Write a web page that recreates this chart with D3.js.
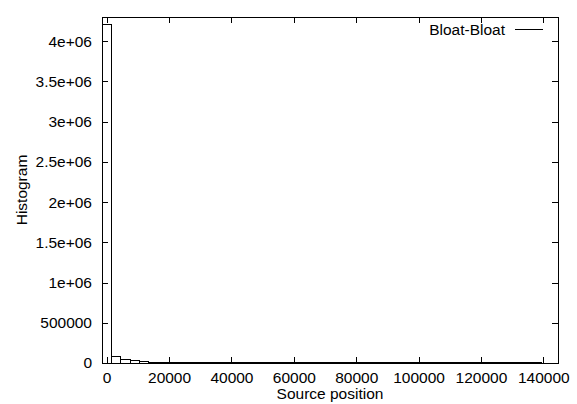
<!DOCTYPE html>
<html>
<head>
<meta charset="utf-8">
<script src="https://cdn.jsdelivr.net/npm/d3@7"></script>
<style>
  body { margin: 0; background: #fff; }
  text { font-family: "Liberation Sans", Arial, sans-serif; font-size: 15.5px; fill: #000; }
</style>
</head>
<body>
<script>
const width = 577,
      height = 404;

// histogram bins (centre of each box, width 3000)
const binCenters = [0, 3000, 6000, 9000, 12000, 15000, 18000, 21000, 24000, 27000,
  30000, 33000, 36000, 39000, 42000, 45000, 48000, 51000, 54000, 57000,
  60000, 63000, 66000, 69000, 72000, 75000, 78000, 81000, 84000, 87000,
  90000, 93000, 96000, 99000, 102000, 105000, 108000, 111000, 114000, 117000,
  120000, 123000, 126000, 129000, 132000, 135000, 138000];
const counts = [4210000, 85000, 45000, 26000, 16000, 11000, 8000, 6000, 5000, 4000,
  3500, 3000, 2600, 2300, 2000, 1800, 1600, 1400, 1300, 1200,
  1100, 1000, 900, 850, 800, 750, 700, 650, 600, 550,
  500, 480, 450, 420, 400, 380, 350, 320, 300, 280,
  260, 240, 220, 200, 180, 160, 140];
const binWidth = 3000;

const xTicks = [0, 20000, 40000, 60000, 80000, 100000, 120000, 140000];
const yTicks = [0, 500000, 1000000, 1500000, 2000000, 2500000, 3000000, 3500000, 4000000];
const yTickLabels = ["0", "500000", "1e+06", "1.5e+06", "2e+06", "2.5e+06", "3e+06", "3.5e+06", "4e+06"];

const seriesName = "Bloat-Bloat";

const margin = {left: 102, right: 19, top: 17, bottom: 41};

const x = d3.scaleLinear()
    .domain([-1500, 144700])
    .range([margin.left, width - margin.right]);

const y = d3.scaleLinear()
    .domain([0, 4300000])
    .range([height - margin.bottom, margin.top]);

const svg = d3.select("body").append("svg")
    .attr("width", width)
    .attr("height", height);

const tickLen = 6;

// boxes
svg.append("g").selectAll("rect")
  .data(binCenters)
  .enter().append("rect")
  .attr("x", d => x(d - binWidth / 2))
  .attr("width", x(binWidth) - x(0))
  .attr("y", (d, i) => y(counts[i]))
  .attr("height", (d, i) => y(0) - y(counts[i]))
  .attr("fill", "none")
  .attr("stroke", "#000")
  .attr("stroke-width", 1)
  .attr("shape-rendering", "crispEdges");

// x ticks (inward, mirrored on top)
const xAxisBottom = d3.axisBottom(x).tickValues(xTicks).tickSizeInner(-tickLen).tickSizeOuter(0)
    .tickPadding(9).tickFormat(d3.format("d"));
const gx = svg.append("g")
  .attr("transform", `translate(0,${y(0)})`)
  .call(xAxisBottom);
gx.select(".domain").remove();
gx.selectAll("text").attr("font-size", null).attr("font-family", null);

const gxTop = svg.append("g")
  .attr("transform", `translate(0,${margin.top})`)
  .call(d3.axisTop(x).tickValues(xTicks).tickSizeInner(-tickLen).tickSizeOuter(0).tickFormat(""));
gxTop.select(".domain").remove();

// y ticks (inward, mirrored on right)
const gy = svg.append("g")
  .attr("transform", `translate(${margin.left},0)`)
  .call(d3.axisLeft(y).tickValues(yTicks).tickSizeInner(-tickLen).tickSizeOuter(0)
    .tickPadding(10).tickFormat((d, i) => yTickLabels[i]));
gy.select(".domain").remove();
gy.selectAll("text").attr("font-size", null).attr("font-family", null);

const gyRight = svg.append("g")
  .attr("transform", `translate(${width - margin.right},0)`)
  .call(d3.axisRight(y).tickValues(yTicks).tickSizeInner(-tickLen).tickSizeOuter(0).tickFormat(""));
gyRight.select(".domain").remove();

svg.selectAll(".tick line").attr("stroke", "#000").attr("shape-rendering", "crispEdges");

// border
svg.append("rect")
  .attr("x", margin.left)
  .attr("y", margin.top)
  .attr("width", width - margin.right - margin.left)
  .attr("height", y(0) - margin.top)
  .attr("fill", "none")
  .attr("stroke", "#000")
  .attr("shape-rendering", "crispEdges");

// axis titles
svg.append("text")
  .attr("x", (margin.left + width - margin.right) / 2)
  .attr("y", 399)
  .attr("text-anchor", "middle")
  .text("Source position");

svg.append("text")
  .attr("transform", `translate(27,${(margin.top + y(0)) / 2}) rotate(-90)`)
  .attr("text-anchor", "middle")
  .text("Histogram");

// legend
svg.append("text")
  .attr("x", 505)
  .attr("y", 34.5)
  .attr("text-anchor", "end")
  .text(seriesName);

svg.append("line")
  .attr("x1", 515).attr("x2", 543)
  .attr("y1", 29.5).attr("y2", 29.5)
  .attr("stroke", "#000");
</script>
</body>
</html>
